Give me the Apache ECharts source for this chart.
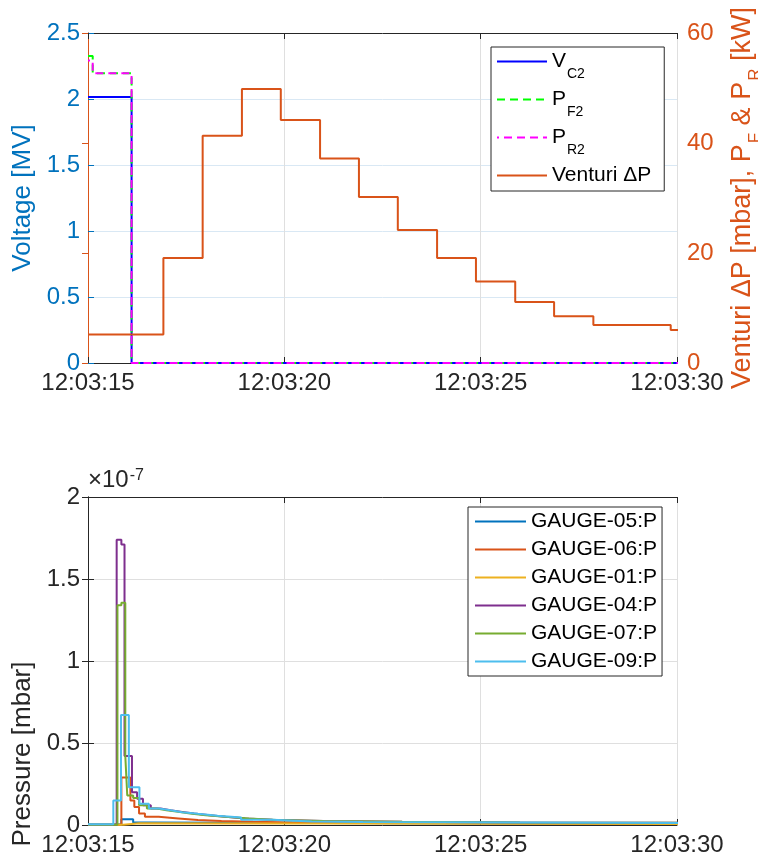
<!DOCTYPE html>
<html>
<head>
<meta charset="utf-8">
<script src="https://cdn.jsdelivr.net/npm/echarts@6/dist/echarts.min.js"></script>
<style>
html,body{margin:0;padding:0;background:#fff;}
#chart{width:758px;height:863px;}
</style>
</head>
<body>
<div id="chart"></div>
<script>
// ---- tick labels ----
const xTickLabels = ['12:03:15', '12:03:20', '12:03:25', '12:03:30'];

// ---- top panel (time in s after 12:03:15) ----
const vc2T = [0, 1.11, 15.5];
const vc2V = [2.015, 0, 0];                 // MV (left axis)
const pf2T = [0, 0.12, 1.11, 15.5];
const pf2V = [55.8, 52.7, 0, 0];            // kW (right axis)
const pr2T = [0, 0.12, 1.11, 15.5];
const pr2V = [55.0, 52.7, 0, 0];            // kW (right axis)
const ventT = [0, 1.92, 2.92, 3.92, 4.91, 5.91, 6.90, 7.89, 8.89, 9.88, 10.88, 11.87, 12.87, 14.84, 15.5];
const ventV = [5.2, 19.1, 41.3, 49.8, 44.2, 37.2, 30.2, 24.2, 19.1, 14.8, 11.1, 8.5, 6.9, 6.0, 6.0]; // mbar

// ---- bottom panel, pressure in units of 1e-7 mbar ----
const g05T = [0, 0.85, 1.15, 1.5, 15.5];
const g05V = [0.003, 0.035, 0.015, 0.006, 0.005];
const g06T = [0, 0.85, 1.08, 1.18, 1.3, 1.45, 1.8, 2.3, 2.8, 3.4, 4.2, 5.2, 7, 10, 15.5];
const g06V = [0.002, 0.29, 0.15, 0.11, 0.07, 0.05, 0.04, 0.03, 0.025, 0.02, 0.015, 0.012, 0.01, 0.008, 0.007];
const g01T = [0, 0.9, 1.3, 15.5];
const g01V = [0.001, 0.01, 0.006, 0.005];
const g04T = [0, 0.73, 0.85, 0.93, 1.12, 1.25, 1.4, 1.6, 1.85, 2.1, 2.4, 2.7, 3.1, 3.5, 4.0, 4.7, 6, 8, 11, 15.5];
const g04V = [0.002, 1.74, 1.71, 0.42, 0.2, 0.16, 0.12, 0.1, 0.09, 0.08, 0.07, 0.06, 0.05, 0.04, 0.032, 0.025, 0.02, 0.016, 0.014, 0.013];
const g07T = [0, 0.75, 0.85, 0.95, 1.0, 1.15, 1.3, 1.5, 1.75, 2.0, 2.3, 2.6, 3.0, 3.5, 4.1, 4.8, 6, 8, 11, 15.5];
const g07V = [0.002, 1.34, 1.355, 0.42, 0.18, 0.165, 0.12, 0.1, 0.09, 0.08, 0.07, 0.06, 0.05, 0.04, 0.03, 0.025, 0.02, 0.016, 0.014, 0.013];
const g09T = [0, 0.645, 0.84, 1.04, 1.31, 1.55, 1.8, 2.1, 2.4, 2.8, 3.3, 3.9, 4.7, 5.7, 7, 9, 11.5, 13.5, 15.5];
const g09V = [0.005, 0.15, 0.67, 0.23, 0.13, 0.1, 0.09, 0.078, 0.068, 0.056, 0.045, 0.032, 0.022, 0.019, 0.017, 0.015, 0.013, 0.012, 0.012];

const pairs = (t, v) => t.map((x, i) => [x, v[i]]);

const FONT = 'Liberation Sans, Arial, Helvetica, sans-serif';
const DARK = '#262626';
const BLUE = '#0072BD';
const ORANGE = '#D95319';
const GRIDGRAY = '#DFDFDF';
const GRIDBLUE = '#D9E8F4';
const TICK = 24;
const NAME = 26;

const topLegendNames = {
  'V_C2': '{m|V}{s|C2}',
  'P_F2': '{m|P}{s|F2}',
  'P_R2': '{m|P}{s|R2}',
  'Venturi ΔP': '{m|Venturi ΔP}'
};

function xAxisPair(gridIndex) {
  return [
    {
      type: 'value', gridIndex, position: 'bottom', min: 0, max: 15, interval: 5,
      axisLine: { show: true, onZero: false, lineStyle: { color: DARK, width: 1 } },
      axisTick: { show: true, inside: true, length: 6, lineStyle: { color: DARK } },
      axisLabel: { show: true, margin: 8, fontSize: TICK, color: DARK, fontFamily: FONT,
        formatter: v => xTickLabels[Math.round(v / 5)] },
      splitLine: { show: true, lineStyle: { color: GRIDGRAY, width: 1 } }
    },
    {
      type: 'value', gridIndex, position: 'top', min: 0, max: 15, interval: 5,
      axisLine: { show: true, onZero: false, lineStyle: { color: DARK, width: 1 } },
      axisTick: { show: true, inside: true, length: 6, lineStyle: { color: DARK } },
      axisLabel: { show: false },
      splitLine: { show: false }
    }
  ];
}

const legendCommon = {
  orient: 'vertical',
  borderColor: DARK, borderWidth: 1, backgroundColor: '#fff',
  selectedMode: false,
  itemStyle: { opacity: 0, borderWidth: 0 }
};

const option = {
  animation: false,
  backgroundColor: '#fff',
  textStyle: { fontFamily: FONT },
  grid: [
    { left: 88, top: 33, right: 81, height: 330, containLabel: false, outerBoundsMode: 'none' },
    { left: 88, top: 497, right: 81, height: 328, containLabel: false, outerBoundsMode: 'none' }
  ],
  xAxis: [...xAxisPair(0), ...xAxisPair(1)],
  yAxis: [
    {
      type: 'value', gridIndex: 0, position: 'left', min: 0, max: 2.5, interval: 0.5,
      name: 'Voltage [MV]', nameLocation: 'middle', nameRotate: 90, nameGap: 43,
      nameTextStyle: { color: BLUE, fontSize: NAME, fontFamily: FONT },
      axisLine: { show: true, lineStyle: { color: BLUE, width: 1 } },
      axisTick: { show: true, inside: true, length: 6, lineStyle: { color: BLUE } },
      axisLabel: { margin: 8, fontSize: TICK, color: BLUE, fontFamily: FONT },
      splitLine: { show: true, lineStyle: { color: GRIDBLUE, width: 1 } }
    },
    {
      type: 'value', gridIndex: 0, position: 'right', min: 0, max: 60, interval: 20,
      name: '{m|Venturi ΔP [mbar], P}{s|F}{m| & P}{s|R}{m| [kW]}',
      nameLocation: 'middle', nameRotate: 90, nameGap: 52,
      nameTextStyle: {
        color: ORANGE, fontSize: 27, fontFamily: FONT,
        rich: {
          m: { fontSize: 27, lineHeight: 27, verticalAlign: 'top', color: ORANGE, fontFamily: FONT },
          s: { fontSize: 17, lineHeight: 17, padding: [18, 0, 0, 1], verticalAlign: 'top', color: ORANGE, fontFamily: FONT }
        }
      },
      axisLine: { show: true, lineStyle: { color: ORANGE, width: 1 } },
      axisTick: { show: true, inside: true, length: 6, lineStyle: { color: ORANGE } },
      axisLabel: { margin: 10, fontSize: TICK, color: ORANGE, fontFamily: FONT },
      splitLine: { show: false }
    },
    {
      type: 'value', gridIndex: 1, position: 'left', min: 0, max: 2, interval: 0.5,
      name: 'Pressure [mbar]', nameLocation: 'middle', nameRotate: 90, nameGap: 43,
      nameTextStyle: { color: DARK, fontSize: NAME, fontFamily: FONT, padding: [0, 186, 0, 0] },
      axisLine: { show: true, lineStyle: { color: DARK, width: 1 } },
      axisTick: { show: true, inside: true, length: 6, lineStyle: { color: DARK } },
      axisLabel: { margin: 8, fontSize: TICK, color: DARK, fontFamily: FONT },
      splitLine: { show: true, lineStyle: { color: GRIDGRAY, width: 1 } }
    },
    {
      type: 'value', gridIndex: 1, position: 'right', min: 0, max: 2, interval: 0.5,
      axisLine: { show: true, lineStyle: { color: DARK, width: 1 } },
      axisTick: { show: true, inside: true, length: 6, lineStyle: { color: DARK } },
      axisLabel: { show: false },
      splitLine: { show: false }
    }
  ],
  legend: [
    Object.assign({}, legendCommon, {
      data: ['V_C2', 'P_F2', 'P_R2', 'Venturi ΔP'],
      left: 491, top: 47,
      itemWidth: 50, itemHeight: 14, itemGap: 8,
      padding: [4, 13, 5, 5],
      formatter: name => topLegendNames[name],
      textStyle: {
        color: '#000', fontSize: 21, fontFamily: FONT,
        rich: {
          m: { fontSize: 21, lineHeight: 21, verticalAlign: 'top', color: '#000', fontFamily: FONT },
          s: { fontSize: 14, lineHeight: 14, padding: [16, 0, 0, 1], verticalAlign: 'top', color: '#000', fontFamily: FONT }
        }
      }
    }),
    Object.assign({}, legendCommon, {
      data: ['GAUGE-05:P', 'GAUGE-06:P', 'GAUGE-01:P', 'GAUGE-04:P', 'GAUGE-07:P', 'GAUGE-09:P'],
      left: 468, top: 507,
      itemWidth: 51, itemHeight: 14, itemGap: 7,
      padding: [4, 5, 4, 6],
      textStyle: { color: '#000', fontSize: 21, fontFamily: FONT, lineHeight: 21 }
    })
  ],
  graphic: [
    {
      type: 'text', left: 88, top: 468, z: 10,
      style: {
        text: '{a|×10}{b|-7}',
        fill: DARK,
        rich: {
          a: { fontSize: 24, lineHeight: 24, verticalAlign: 'bottom', fill: DARK, fontFamily: FONT },
          b: { fontSize: 16, lineHeight: 16, padding: [0, 0, 13, 1], verticalAlign: 'top', fill: DARK, fontFamily: FONT }
        }
      }
    }
  ],
  series: [
    { name: 'V_C2', type: 'line', step: 'end', xAxisIndex: 0, yAxisIndex: 0, symbol: 'none',
      data: pairs(vc2T, vc2V), lineStyle: { color: '#0000FF', width: 2 }, itemStyle: { color: '#0000FF' } },
    { name: 'P_F2', type: 'line', step: 'end', xAxisIndex: 0, yAxisIndex: 1, symbol: 'none',
      data: pairs(pf2T, pf2V), lineStyle: { color: '#00FF00', width: 2, type: [8, 5] }, itemStyle: { color: '#00FF00' } },
    { name: 'P_R2', type: 'line', step: 'end', xAxisIndex: 0, yAxisIndex: 1, symbol: 'none',
      data: pairs(pr2T, pr2V), lineStyle: { color: '#FF00FF', width: 2, type: [8, 5], dashOffset: 6 }, itemStyle: { color: '#FF00FF' } },
    { name: 'Venturi ΔP', type: 'line', step: 'end', xAxisIndex: 0, yAxisIndex: 1, symbol: 'none',
      data: pairs(ventT, ventV), lineStyle: { color: ORANGE, width: 2 }, itemStyle: { color: ORANGE } },

    { name: 'GAUGE-05:P', type: 'line', step: 'end', xAxisIndex: 2, yAxisIndex: 2, symbol: 'none',
      data: pairs(g05T, g05V), lineStyle: { color: '#0072BD', width: 2 }, itemStyle: { color: '#0072BD' } },
    { name: 'GAUGE-06:P', type: 'line', step: 'end', xAxisIndex: 2, yAxisIndex: 2, symbol: 'none',
      data: pairs(g06T, g06V), lineStyle: { color: '#D95319', width: 2 }, itemStyle: { color: '#D95319' } },
    { name: 'GAUGE-01:P', type: 'line', step: 'end', xAxisIndex: 2, yAxisIndex: 2, symbol: 'none',
      data: pairs(g01T, g01V), lineStyle: { color: '#EDB120', width: 2 }, itemStyle: { color: '#EDB120' } },
    { name: 'GAUGE-04:P', type: 'line', step: 'end', xAxisIndex: 2, yAxisIndex: 2, symbol: 'none',
      data: pairs(g04T, g04V), lineStyle: { color: '#7E2F8E', width: 2 }, itemStyle: { color: '#7E2F8E' } },
    { name: 'GAUGE-07:P', type: 'line', step: 'end', xAxisIndex: 2, yAxisIndex: 2, symbol: 'none',
      data: pairs(g07T, g07V), lineStyle: { color: '#77AC30', width: 2 }, itemStyle: { color: '#77AC30' } },
    { name: 'GAUGE-09:P', type: 'line', step: 'end', xAxisIndex: 2, yAxisIndex: 2, symbol: 'none',
      data: pairs(g09T, g09V), lineStyle: { color: '#4DBEEE', width: 2 }, itemStyle: { color: '#4DBEEE' } }
  ]
};

const chart = echarts.init(document.getElementById('chart'), null, { renderer: 'canvas' });
chart.setOption(option);
</script>
</body>
</html>
